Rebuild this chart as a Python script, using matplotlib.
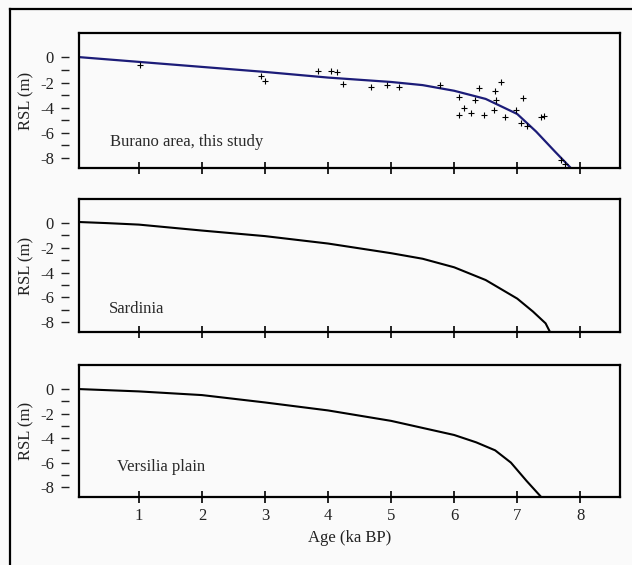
import matplotlib
matplotlib.use("Agg")
import matplotlib.pyplot as plt
import matplotlib.transforms as mtransforms
from matplotlib.lines import Line2D

plt.rcParams['font.family'] = ['Liberation Serif', 'DejaVu Serif']

# Burano area model curve
burano_age = [0, 1, 2, 3, 4, 5, 5.5, 6, 6.5, 7, 7.3, 7.6, 7.85]
burano_rsl = [0.05, -0.35, -0.75, -1.15, -1.6, -1.95, -2.2, -2.65, -3.3, -4.5, -5.9, -7.5, -8.8]

# Burano area data points
pts_age = [1.02, 2.94, 3.0, 3.84, 4.04, 4.14, 4.23, 4.68, 4.94, 5.12, 5.78, 6.08, 6.08,
           6.16, 6.26, 6.33, 6.40, 6.47, 6.63, 6.65, 6.67, 6.75, 6.81, 6.98, 7.06, 7.09,
           7.15, 7.37, 7.43, 7.69, 7.76]
pts_rsl = [-0.56, -1.44, -1.9, -1.04, -1.07, -1.15, -2.13, -2.32, -2.21, -2.32, -2.21, -3.15, -4.59,
           -4.0, -4.4, -3.36, -2.4, -4.59, -4.19, -2.67, -3.39, -1.97, -4.77, -4.16, -5.25, -3.25,
           -5.44, -4.77, -4.67, -8.2, -8.45]

# Sardinia curve
sard_age = [0, 0.5, 1, 2, 3, 4, 5, 5.5, 6, 6.5, 7, 7.25, 7.45, 7.52]
sard_rsl = [0.1, 0.0, -0.12, -0.6, -1.05, -1.65, -2.43, -2.88, -3.57, -4.6, -6.1, -7.15, -8.1, -8.8]

# Versilia plain curve
vers_age = [0, 1, 2, 3, 4, 5, 6, 6.35, 6.65, 6.9, 7.15, 7.38]
vers_rsl = [0.0, -0.2, -0.5, -1.1, -1.75, -2.6, -3.75, -4.35, -5.0, -6.0, -7.5, -8.8]

panel_labels = ["Burano area, this study", "Sardinia", "Versilia plain"]
xticks = [1, 2, 3, 4, 5, 6, 7, 8]
ymajor = [0, -2, -4, -6, -8]
ydashes = [0, -1, -2, -3, -4, -5, -6, -7, -8]

fig = plt.figure(figsize=(6.32, 5.65), dpi=100, facecolor='#fafafa')

W, H = 632.0, 565.0
left, right = 79, 620
panels_px = [(33, 168), (199, 332), (365, 497)]
label_pos = [(0.057, 0.193), (0.055, 0.173), (0.07, 0.227)]

axes = []
for i, (t, b) in enumerate(panels_px):
    ax = fig.add_axes([left / W, 1 - b / H, (right - left) / W, (b - t) / H])
    ax.set_facecolor('#fafafa')
    ax.set_xlim(0.05, 8.63)
    ax.set_ylim(-8.8, 1.95)
    for s in ax.spines.values():
        s.set_linewidth(1.6)
        s.set_color('black')
    ax.set_xticks(xticks)
    ax.tick_params(axis='x', direction='inout', length=8, width=1.2, pad=4, labelsize=12,
                   labelcolor='#222222')
    if i < 2:
        ax.set_xticklabels([])
    ax.set_yticks(ymajor)
    ax.set_yticklabels([str(v) for v in ymajor])
    ax.tick_params(axis='y', which='both', length=0, pad=18, labelsize=12, labelcolor='#222222')
    # detached tick dashes left of the axis
    trans = mtransforms.blended_transform_factory(ax.transAxes, ax.transData)
    ax.plot([-0.026] * len(ydashes), ydashes, linestyle='none', marker='_', ms=5.2,
            mew=1.0, color='#222222', transform=trans, clip_on=False)
    ax.set_ylabel("RSL (m)", fontsize=12, color='#222222')
    ax.yaxis.set_label_coords(-0.082, 0.5)
    ax.text(label_pos[i][0], label_pos[i][1], panel_labels[i], transform=ax.transAxes,
            fontsize=12, va='center', ha='left', color='#2a2a2a')
    axes.append(ax)

axes[0].plot(burano_age, burano_rsl, color='#1c1c78', lw=1.6, clip_on=True)
axes[0].plot(pts_age, pts_rsl, linestyle='none', marker='+', color='black', ms=4, mew=0.8)
axes[1].plot(sard_age, sard_rsl, color='black', lw=1.5)
axes[2].plot(vers_age, vers_rsl, color='black', lw=1.5)
axes[2].set_xlabel("Age (ka BP)", fontsize=12, labelpad=4, color='#222222')

# outer frame (top and left edges visible)
fig.add_artist(Line2D([10 / W, 10 / W], [0, 1 - 9 / H], transform=fig.transFigure,
                      color='black', lw=1.6))
fig.add_artist(Line2D([10 / W, 1], [1 - 9 / H, 1 - 9 / H], transform=fig.transFigure,
                      color='black', lw=1.6))

fig.savefig("out.png", dpi=100, facecolor=fig.get_facecolor())
